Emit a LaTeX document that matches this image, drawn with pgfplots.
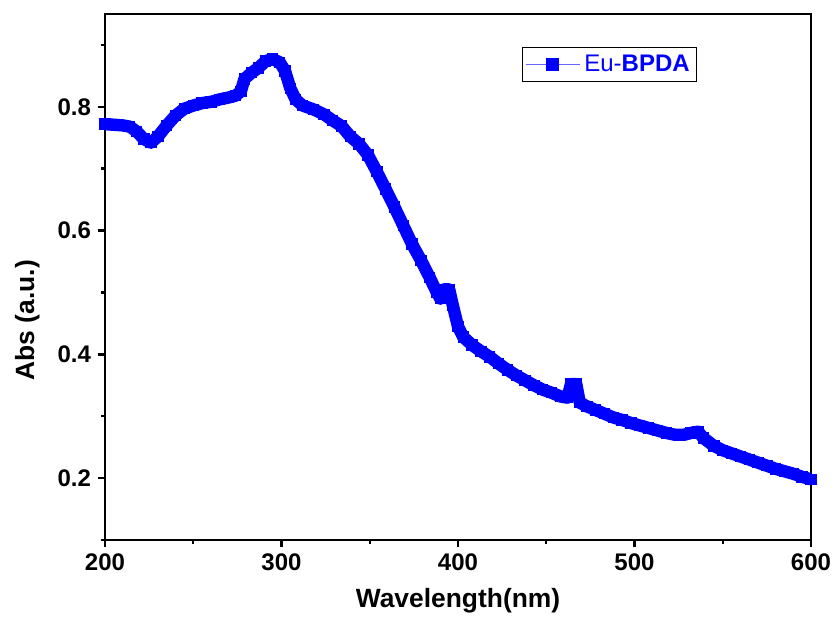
\documentclass[border=0pt]{standalone}
\usepackage{pgfplots}
\pgfplotsset{compat=1.18}
\usepackage{fontspec}
\setmainfont{Liberation Sans}
\begin{document}
\begin{tikzpicture}
\begin{axis}[
  scale only axis,
  width=353pt, height=263pt,
  xmin=200, xmax=600, ymin=0.1, ymax=0.95,
  xtick={200,300,400,500,600},
  ytick={0.2,0.4,0.6,0.8},
  minor xtick={250,350,450,550},
  minor ytick={0.1,0.3,0.5,0.7,0.9},
  tick align=outside,
  xtick pos=bottom, ytick pos=left,
  major tick length=3.5pt, minor tick length=2pt,
  every tick/.style={black, line width=1.2pt},
  axis line style={line width=1.3pt},
  /pgf/number format/assume math mode=true,
  /pgf/number format/fixed,
  /pgf/number format/precision=1,
  yticklabel style={/pgf/number format/fixed zerofill},
  tick label style={font=\fontsize{12}{14}\selectfont\bfseries},
  xlabel={Wavelength(nm)}, ylabel={Abs (a.u.)},
  label style={font=\fontsize{13.2}{15}\selectfont\bfseries},
  xlabel style={yshift=-2pt},
  ylabel style={at={(axis description cs:-0.110,0.418)}, anchor=center},
  legend style={at={(0.59,0.937)}, anchor=north west, draw=black, line width=0.6pt,
    font=\fontsize{12}{14}\selectfont, text=blue, inner sep=1.5pt, row sep=0pt},
  legend cell align=left,
]
\addlegendimage{legend image code/.code={
  \draw[blue!60, line width=0.6pt] (0pt,0pt) -- (27pt,0pt);
  \fill[blue] (10.5pt,-3pt) rectangle (16.5pt,3pt);}}
\addlegendentry{Eu-\textbf{BPDA}}
\addplot[blue, line width=6.2pt, line join=round, mark=square*, mark size=2.6pt, mark options={line width=0pt}, forget plot] coordinates {
(200,0.772)(205,0.771)(210,0.770)(214,0.768)(218,0.760)(222,0.748)(226,0.742)
(230,0.752)(235,0.770)(240,0.786)(245,0.797)(250,0.802)(255,0.806)(260,0.808)
(265,0.812)(270,0.815)(274,0.818)(277,0.825)(279,0.845)(283,0.855)(287,0.863)
(291,0.874)(295,0.877)(299,0.872)(302,0.858)(305,0.830)(308,0.812)(312,0.802)
(318,0.796)(324,0.788)(329,0.778)(334,0.769)(339,0.752)(344,0.740)(349,0.722)
(354,0.695)(359,0.667)(364,0.638)(369,0.608)(374,0.578)(379,0.552)(384,0.524)
(388,0.500)(390,0.490)(392,0.505)(395,0.505)(397,0.480)(400,0.445)(403,0.428)
(408,0.415)(413,0.405)(418,0.396)(423,0.385)(428,0.375)(433,0.366)(438,0.358)
(443,0.350)(448,0.343)(453,0.338)(458,0.332)(462,0.330)(464,0.352)(467,0.352)
(469,0.322)(473,0.316)(478,0.310)(483,0.304)(488,0.298)(493,0.294)(498,0.289)
(503,0.285)(508,0.281)(513,0.277)(518,0.273)(523,0.270)(528,0.270)(532,0.273)
(536,0.275)(539,0.265)(545,0.252)(550,0.245)(555,0.240)(560,0.235)(565,0.230)
(570,0.225)(575,0.220)(580,0.215)(585,0.211)(590,0.207)(595,0.202)(600,0.198)
};
\end{axis}
\pgfresetboundingbox
\path ([shift={(-52.5pt,-43pt)}]current axis.south west) rectangle ([shift={(11.5pt,7pt)}]current axis.north east);
\end{tikzpicture}
\end{document}
